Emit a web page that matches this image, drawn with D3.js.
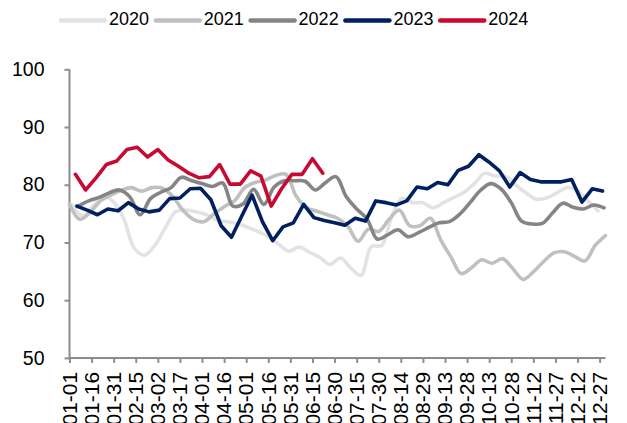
<!DOCTYPE html>
<html>
<head>
<meta charset="utf-8">
<script src="https://cdn.jsdelivr.net/npm/d3@7/dist/d3.min.js"></script>
<style>
  html, body { margin: 0; padding: 0; background: #ffffff; }
  svg { display: block; }
  text { font-family: "Liberation Sans", Arial, sans-serif; fill: #000; }
</style>
</head>
<body>
<svg id="chart" width="627" height="423"></svg>
<script>
// Weekly index readings, one series per year (first Friday of each year, then every 7 days)
const years = ["2020", "2021", "2022", "2023", "2024"];
const startDates = ["2020-01-03", "2021-01-01", "2022-01-07", "2023-01-06", "2024-01-05"];

const values2020 = [76.5, 74.6, 76.4, 78.0, 77.0, 74.0, 69.0, 67.8, 69.5, 72.5, 75.3, 75.6, 75.3, 74.8, 73.9, 73.6, 73.3, 72.6, 71.9, 71.0, 69.7, 68.5, 69.2, 68.3, 67.4, 66.2, 67.3, 65.6, 64.3, 69.3, 69.5, 74.6, 77.7, 76.9, 76.9, 76.0, 76.9, 77.8, 78.7, 80.2, 82.0, 81.5, 81.5, 80.0, 78.6, 77.5, 77.7, 78.6, 79.5, 79.0, 77.2, 75.5];
const values2021 = [76.6, 74.0, 75.2, 77.2, 78.2, 79.0, 79.5, 78.9, 79.5, 79.4, 78.0, 75.6, 74.0, 73.6, 74.9, 76.2, 77.2, 79.5, 80.4, 80.8, 81.6, 81.8, 78.0, 76.0, 75.4, 74.8, 74.2, 72.8, 70.2, 72.3, 71.9, 74.0, 75.6, 72.9, 72.9, 74.2, 70.5, 67.5, 64.6, 65.6, 67.0, 66.4, 67.2, 65.5, 63.6, 64.9, 66.7, 68.2, 68.4, 67.6, 66.8, 69.5, 71.2];
const values2022 = [76.3, 77.2, 77.8, 78.6, 79.1, 77.9, 74.8, 77.6, 78.7, 79.5, 81.3, 80.7, 80.2, 79.7, 80.3, 76.3, 76.7, 79.2, 76.6, 79.6, 80.7, 80.7, 80.6, 79.1, 80.4, 81.4, 77.9, 75.8, 74.1, 70.6, 71.3, 72.2, 71.0, 71.7, 72.6, 73.4, 73.6, 74.9, 76.9, 79.0, 80.2, 79.3, 76.9, 73.7, 73.2, 73.3, 75.1, 76.8, 76.1, 75.8, 76.5, 76.0];
const values2023 = [76.3, 75.6, 74.8, 75.8, 75.5, 76.9, 75.8, 75.3, 75.6, 77.6, 77.7, 79.3, 79.4, 77.4, 72.9, 70.9, 74.6, 78.2, 73.6, 70.3, 72.7, 73.4, 76.6, 74.3, 73.8, 73.4, 73.0, 74.2, 73.7, 77.2, 76.9, 76.5, 77.2, 79.6, 79.3, 80.4, 80.0, 82.5, 83.2, 85.2, 83.9, 82.4, 79.6, 82.1, 80.9, 80.5, 80.5, 80.5, 80.9, 77.0, 79.3, 78.9];
const values2024 = [81.8, 79.1, 81.2, 83.5, 84.1, 86.1, 86.5, 84.8, 86.1, 84.3, 83.2, 82.0, 81.2, 81.4, 83.5, 80.1, 80.1, 82.4, 81.5, 76.3, 79.3, 81.8, 81.8, 84.5, 82.0];

const seriesValues = [values2020, values2021, values2022, values2023, values2024];
const seriesColors = ["#e3e3e3", "#c0c0c0", "#858585", "#002060", "#c70a32"];
const smoothed = [true, true, true, false, false];

const tickLabels = ["01-01", "01-16", "01-31", "02-15", "03-02", "03-17", "04-01", "04-16", "05-01", "05-16", "05-31", "06-15", "06-30", "07-15", "07-30", "08-14", "08-29", "09-13", "09-28", "10-13", "10-28", "11-12", "11-27", "12-12", "12-27"];
const yTicks = [50, 60, 70, 80, 90, 100];

const DAY = 864e5;
// day of year within the series' own year
function dayOfYear(d) {
  return Math.round((d - Date.UTC(d.getUTCFullYear(), 0, 1)) / DAY);
}
// "MM-DD" label -> day of year in a common year
function labelDay(s) {
  const [m, d] = s.split("-").map(Number);
  return Math.round((Date.UTC(2023, m - 1, d) - Date.UTC(2023, 0, 1)) / DAY);
}

const svg = d3.select("#chart");
const plotLeft = 69.5, plotRight = 605.5, plotTop = 69.3, plotBottom = 357.9;

const x = d3.scaleLinear().domain([0, 364]).range([plotLeft, plotRight]);
const y = d3.scaleLinear().domain([50, 100]).range([plotBottom, plotTop]);

const axisColor = "#8c8c8c";

// y axis
const yAxis = svg.append("g").attr("transform", `translate(${plotLeft},0)`)
  .call(d3.axisLeft(y).tickValues(yTicks).tickSize(5).tickPadding(20).tickFormat(d3.format("d")));
yAxis.select(".domain").attr("stroke", axisColor).attr("stroke-width", 2).attr("d", `M0,${plotBottom}V${plotTop}`);
yAxis.selectAll(".tick line").attr("stroke", axisColor).attr("stroke-width", 2);
yAxis.selectAll(".tick text").attr("font-size", 19.5).attr("font-family", "Liberation Sans, Arial, sans-serif").attr("fill", "#000");

// x axis
const xAxis = svg.append("g").attr("transform", `translate(0,${plotBottom})`)
  .call(d3.axisBottom(x).tickValues(tickLabels.map(labelDay)).tickSize(5).tickFormat((d, i) => tickLabels[i]));
xAxis.select(".domain").attr("stroke", axisColor).attr("stroke-width", 2).attr("d", `M${plotLeft},0H${plotRight}`);
xAxis.selectAll(".tick line").attr("stroke", axisColor).attr("stroke-width", 2);
xAxis.selectAll(".tick text")
  .attr("font-size", 21)
  .attr("font-family", "Liberation Sans, Arial, sans-serif")
  .attr("fill", "#000")
  .attr("text-anchor", "end")
  .attr("dy", "0.35em")
  .attr("y", 0)
  .attr("transform", "translate(0,14) scale(0.92,1) rotate(-90)");

// series lines
const plot = svg.append("g");
seriesValues.forEach((vals, si) => {
  const start = new Date(startDates[si] + "T00:00:00Z");
  const pts = vals.map((v, i) => ({ day: dayOfYear(new Date(start.getTime() + i * 7 * DAY)), v }));
  const line = d3.line()
    .x(d => x(d.day))
    .y(d => y(d.v))
    .curve(smoothed[si] ? d3.curveCatmullRom.alpha(0.5) : d3.curveLinear);
  plot.append("path")
    .datum(pts)
    .attr("fill", "none")
    .attr("stroke", seriesColors[si])
    .attr("stroke-width", 3.6)
    .attr("stroke-linejoin", "round")
    .attr("stroke-linecap", "round")
    .attr("d", line);
});

// legend
const legend = svg.append("g");
years.forEach((yr, i) => {
  const g = legend.append("g").attr("transform", `translate(${61 + i * 94.8},0)`);
  g.append("line").attr("x1", 0).attr("x2", 44).attr("y1", 20.5).attr("y2", 20.5)
    .attr("stroke", seriesColors[i]).attr("stroke-width", 4.5).attr("stroke-linecap", "round");
  g.append("text").attr("x", 48).attr("y", 25).attr("font-size", 18).text(yr);
});
</script>
</body>
</html>
